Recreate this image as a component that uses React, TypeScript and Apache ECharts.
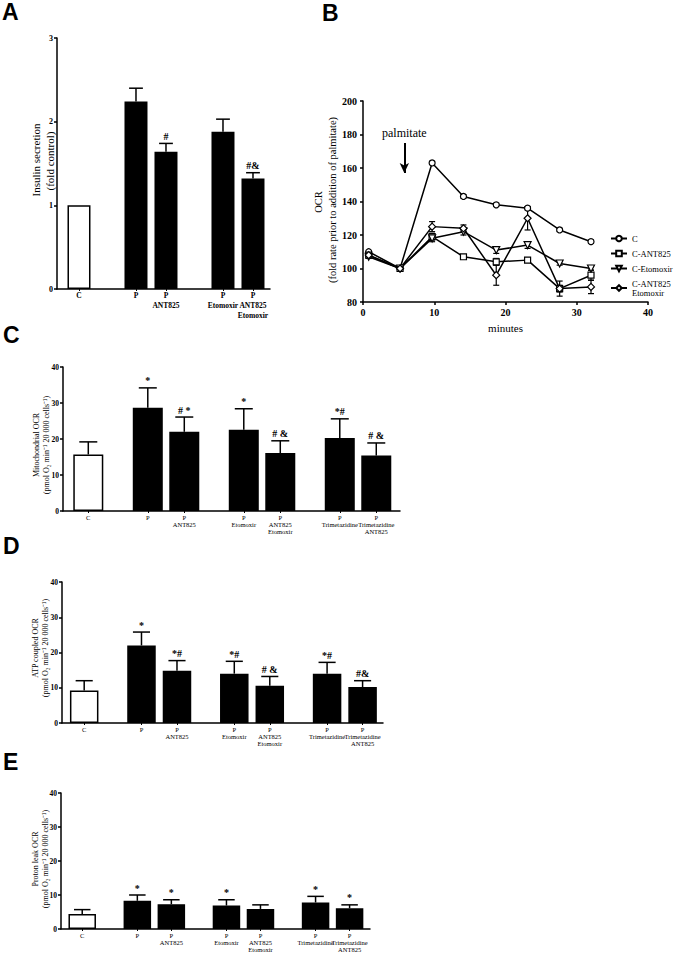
import React, { useEffect, useRef } from 'react';
import * as echarts from 'echarts';

const SERIF = '"Liberation Serif", "Times New Roman", serif';
const SANS = '"Liberation Sans", Arial, sans-serif';

// ---------- Panel A: insulin secretion ----------
const catsA = ['C', 'P', 'P\nANT825', 'P\nEtomoxir', 'P\nANT825\nEtomoxir'];
const groupsA = [1, 2, 2];
const insulin = [1.0, 2.24, 1.64, 1.88, 1.32];
const insulinErr = [0, 0.16, 0.1, 0.15, 0.07];
const sigA = ['', '', '#', '', '#&'];

// ---------- Panel B: OCR time course ----------
const minutes = [0.8, 5.2, 9.7, 14.1, 18.7, 23.1, 27.6, 32.0];
const seriesNamesB = ['C', 'C-ANT825', 'C-Etomoxir', 'C-ANT825\nEtomoxir'];
const ocrC = [110, 100, 163, 143, 138, 136, 123, 116];
const ocrAnt = [108, 100, 119, 107, 104, 105, 88, 96];
const ocrEto = [107, 100, 118, 122, 111, 114, 103, 100];
const ocrAntEto = [108, 100, 125, 124, 96, 130, 88, 89];
const errC = [0, 0, 1, 1, 1, 1, 1, 1];
const errAnt = [1, 0, 2, 1, 2, 1, 4.5, 3];
const errEto = [1, 0, 2, 2, 2, 2, 1, 1];
const errAntEto = [1, 0, 3, 2, 6, 7, 2, 4];
const palmitateArrow = { minute: 5.8, from: 175, to: 157 };

// ---------- Panels C, D, E ----------
const catsOCR = [
  'C',
  'P',
  'P\nANT825',
  'P\nEtomoxir',
  'P\nANT825\nEtomoxir',
  'P\nTrimetazidine',
  'P\nTrimetazidine\nANT825',
];
const groupsOCR = [1, 2, 2, 2];
const mitoOCR = [15.7, 28.7, 22.0, 22.6, 16.1, 20.3, 15.4];
const mitoErr = [3.5, 5.5, 4.1, 5.8, 3.4, 5.3, 3.5];
const sigC = ['', '*', '# *', '*', '# &', '*#', '# &'];

const atpOCR = [9.2, 22.0, 14.8, 14.0, 10.6, 14.0, 10.2];
const atpErr = [2.8, 3.8, 2.9, 3.5, 2.6, 3.2, 1.8];
const sigD = ['', '*', '*#', '*#', '# &', '*#', '#&'];

const leakOCR = [4.4, 8.3, 7.3, 6.9, 5.9, 7.8, 6.1];
const leakErr = [1.3, 1.7, 1.3, 1.7, 1.2, 1.8, 1.0];
const sigE = ['', '*', '*', '*', '', '*', '*'];

function positions(groups: number[], gap: number) {
  const out: number[] = [];
  let i = 0;
  groups.forEach((n, g) => {
    for (let k = 0; k < n; k++) {
      out.push(i + g * gap);
      i++;
    }
  });
  return out;
}

type BarCfg = {
  grid: { left: number; top: number; width: number; height: number };
  cats: string[];
  groups: number[];
  vals: number[];
  errs: number[];
  sig: string[];
  gap: number;
  min: number;
  max: number;
  barWidth: number;
  yMax: number;
  yInterval: number;
  tickFont: number;
  catFont: number;
  catWeight: string;
  catLineHeight: number;
  catMargin: number;
  sigSize: number;
};

function addBarPanel(opt: any, idx: number, cfg: BarCfg) {
  const pos = positions(cfg.groups, cfg.gap);
  opt.grid.push({ ...cfg.grid, containLabel: false });
  opt.xAxis.push({
    gridIndex: idx,
    type: 'value',
    min: cfg.min,
    max: cfg.max,
    axisLine: { show: true, onZero: false, lineStyle: { color: '#000', width: 1.5 } },
    axisTick: { show: true, customValues: pos, length: 2, lineStyle: { color: '#000', width: 1 } },
    axisLabel: { show: false },
    splitLine: { show: false },
  });
  opt.yAxis.push({
    gridIndex: idx,
    type: 'value',
    min: 0,
    max: cfg.yMax,
    interval: cfg.yInterval,
    axisLine: { show: true, onZero: false, lineStyle: { color: '#000', width: 1.5 } },
    axisTick: { show: true, length: 3, lineStyle: { color: '#000', width: 1.5 } },
    axisLabel: { margin: 4, fontSize: cfg.tickFont, fontWeight: 'bold', fontFamily: SERIF, color: '#000' },
    splitLine: { show: false },
  });
  opt.series.push({
    type: 'bar',
    xAxisIndex: idx,
    yAxisIndex: idx,
    barWidth: cfg.barWidth,
    itemStyle: { borderColor: '#000', borderWidth: 1.5 },
    data: pos.map((p, i) => ({ value: [p, cfg.vals[i]], itemStyle: { color: i === 0 ? '#fff' : '#000' } })),
    z: 2,
  });
  opt.series.push({
    type: 'custom',
    xAxisIndex: idx,
    yAxisIndex: idx,
    z: 3,
    data: pos.map((p, i) => [p, cfg.vals[i], cfg.vals[i] + cfg.errs[i]]),
    renderItem: (params: any, api: any) => {
      const i = params.dataIndex;
      const base = api.coord([api.value(0), api.value(1)]);
      const top = api.coord([api.value(0), api.value(2)]);
      const zero = api.coord([api.value(0), 0]);
      const h = cfg.barWidth * 0.3;
      const children: any[] = [];
      if (api.value(2) > api.value(1)) {
        children.push({
          type: 'line',
          shape: { x1: base[0], y1: base[1], x2: base[0], y2: top[1] },
          style: { stroke: '#000', lineWidth: 1.5 },
        });
        children.push({
          type: 'line',
          shape: { x1: base[0] - h, y1: top[1], x2: base[0] + h, y2: top[1] },
          style: { stroke: '#000', lineWidth: 1.5 },
        });
      }
      if (cfg.sig[i]) {
        children.push({
          type: 'text',
          x: base[0],
          y: top[1] - 2,
          style: {
            text: cfg.sig[i],
            font: `bold ${cfg.sigSize}px ${SERIF}`,
            fill: '#000',
            align: 'center',
            verticalAlign: 'bottom',
          },
        });
      }
      children.push({
        type: 'text',
        x: zero[0],
        y: zero[1] + cfg.catMargin,
        style: {
          text: cfg.cats[i],
          font: `${cfg.catWeight} ${cfg.catFont}px ${SERIF}`,
          lineHeight: cfg.catLineHeight,
          fill: '#000',
          align: 'center',
          verticalAlign: 'top',
        },
      });
      return { type: 'group', children };
    },
  });
}

function buildOption() {
  const opt: any = {
    animation: false,
    backgroundColor: '#fff',
    textStyle: { fontFamily: SERIF },
    grid: [],
    xAxis: [],
    yAxis: [],
    series: [],
  };

  // Panel A (index 0)
  addBarPanel(opt, 0, {
    grid: { left: 57, top: 38, width: 213, height: 251 },
    cats: catsA,
    groups: groupsA,
    vals: insulin,
    errs: insulinErr,
    sig: sigA,
    gap: 0.9,
    min: -0.733,
    max: 6.367,
    barWidth: 23,
    yMax: 3,
    yInterval: 1,
    tickFont: 8,
    catFont: 7.5,
    catWeight: 'bold',
    catLineHeight: 9.7,
    catMargin: 2,
    sigSize: 10,
  });

  // Panel B (index 1)
  opt.grid.push({ left: 363, top: 101, width: 285, height: 201 });
  opt.xAxis.push({
    gridIndex: 1,
    type: 'value',
    min: 0,
    max: 40,
    interval: 10,
    name: 'minutes',
    nameLocation: 'middle',
    nameGap: 20,
    nameTextStyle: { fontFamily: SERIF, fontSize: 11, color: '#000' },
    axisLine: { show: true, onZero: false, lineStyle: { color: '#000', width: 1.5 } },
    axisTick: { show: true, length: 3, lineStyle: { color: '#000', width: 1.5 } },
    axisLabel: { margin: 5, fontSize: 10, fontWeight: 'bold', fontFamily: SERIF, color: '#000' },
    splitLine: { show: false },
  });
  opt.yAxis.push({
    gridIndex: 1,
    type: 'value',
    min: 80,
    max: 200,
    interval: 20,
    axisLine: { show: true, onZero: false, lineStyle: { color: '#000', width: 1.5 } },
    axisTick: { show: true, length: 3, lineStyle: { color: '#000', width: 1.5 } },
    axisLabel: { margin: 6, fontSize: 10, fontWeight: 'bold', fontFamily: SERIF, color: '#000' },
    splitLine: { show: false },
  });
  const bVals = [ocrC, ocrAnt, ocrEto, ocrAntEto];
  const bErrs = [errC, errAnt, errEto, errAntEto];
  const symbols = ['circle', 'rect', 'triangle', 'diamond'];
  const symSizes = [6, 6, 7, 7];
  const symRot = [0, 0, 180, 0];
  bVals.forEach((vals, s) => {
    const ser: any = {
      type: 'line',
      name: seriesNamesB[s],
      xAxisIndex: 1,
      yAxisIndex: 1,
      data: minutes.map((t, i) => [t, vals[i]]),
      symbol: symbols[s],
      symbolSize: symSizes[s],
      symbolRotate: symRot[s],
      showAllSymbol: true,
      lineStyle: { color: '#000', width: 1.5 },
      itemStyle: { color: '#fff', borderColor: '#000', borderWidth: 1.2 },
      z: 4,
    };
    if (s === 0) {
      ser.markLine = {
        silent: true,
        symbol: ['none', 'arrow'],
        symbolSize: [7, 10],
        lineStyle: { color: '#000', width: 2, type: 'solid' },
        label: {
          show: true,
          position: 'start',
          formatter: 'palmitate',
          fontFamily: SERIF,
          fontSize: 12,
          color: '#000',
          distance: 4,
        },
        data: [
          [
            { coord: [palmitateArrow.minute, palmitateArrow.from] },
            { coord: [palmitateArrow.minute, palmitateArrow.to] },
          ],
        ],
      };
    }
    opt.series.push(ser);
  });
  const errData: number[][] = [];
  bVals.forEach((vals, s) => {
    minutes.forEach((t, i) => {
      const e = bErrs[s][i];
      if (e > 0) errData.push([t, vals[i] - e, vals[i] + e]);
    });
  });
  opt.series.push({
    type: 'custom',
    xAxisIndex: 1,
    yAxisIndex: 1,
    z: 3,
    data: errData,
    renderItem: (_p: any, api: any) => {
      const lo = api.coord([api.value(0), api.value(1)]);
      const hi = api.coord([api.value(0), api.value(2)]);
      const h = 3;
      const st = { stroke: '#000', lineWidth: 1.2 };
      return {
        type: 'group',
        children: [
          { type: 'line', shape: { x1: lo[0], y1: lo[1], x2: hi[0], y2: hi[1] }, style: st },
          { type: 'line', shape: { x1: lo[0] - h, y1: lo[1], x2: lo[0] + h, y2: lo[1] }, style: st },
          { type: 'line', shape: { x1: hi[0] - h, y1: hi[1], x2: hi[0] + h, y2: hi[1] }, style: st },
        ],
      };
    },
  });
  opt.legend = {
    data: seriesNamesB,
    orient: 'vertical',
    left: 610,
    top: 234,
    itemWidth: 16,
    itemHeight: 7,
    itemGap: 6,
    padding: 0,
    selectedMode: false,
    textStyle: { fontFamily: SERIF, fontSize: 8.5, color: '#000' },
  };

  const ocrCommon = {
    cats: catsOCR,
    groups: groupsOCR,
    yMax: 40,
    yInterval: 10,
    tickFont: 7.5,
    catFont: 6.5,
    catWeight: 'normal',
    catLineHeight: 7.3,
    catMargin: 2.4,
    sigSize: 10,
  };
  // Panel C (index 2)
  addBarPanel(opt, 2, {
    ...ocrCommon,
    grid: { left: 63, top: 367, width: 337, height: 144 },
    vals: mitoOCR,
    errs: mitoErr,
    sig: sigC,
    gap: 0.63,
    min: -0.693,
    max: 8.54,
    barWidth: 30,
  });
  // Panel D (index 3)
  addBarPanel(opt, 3, {
    ...ocrCommon,
    grid: { left: 62, top: 582, width: 321, height: 141 },
    vals: atpOCR,
    errs: atpErr,
    sig: sigD,
    gap: 0.614,
    min: -0.625,
    max: 8.417,
    barWidth: 28.5,
  });
  // Panel E (index 4)
  addBarPanel(opt, 4, {
    ...ocrCommon,
    grid: { left: 61, top: 793, width: 309, height: 136 },
    vals: leakOCR,
    errs: leakErr,
    sig: sigE,
    gap: 0.62,
    min: -0.624,
    max: 8.46,
    barWidth: 27.5,
  });

  const letter = (t: string, x: number, y: number) => ({
    type: 'text',
    x,
    y,
    style: { text: t, font: `bold 23px ${SANS}`, fill: '#000', textVerticalAlign: 'middle', verticalAlign: 'middle' },
  });
  const vtitle = (t: string, x: number, y: number, size: number) => ({
    type: 'text',
    x,
    y,
    rotation: Math.PI / 2,
    style: {
      text: t,
      font: `${size}px ${SERIF}`,
      fill: '#000',
      textAlign: 'center',
      align: 'center',
      textVerticalAlign: 'middle',
      verticalAlign: 'middle',
    },
  });
  const unitLine = '(pmol O\u2082 min\u207B\u00B9 20 000 cells\u207B\u00B9)';
  opt.graphic = [
    letter('A', 2, 11.5),
    letter('B', 322, 12.5),
    letter('C', 3, 335),
    letter('D', 3, 546),
    letter('E', 3, 762),
    vtitle('Insulin secretion', 36, 160, 11),
    vtitle('(fold control)', 50, 161, 11),
    vtitle('OCR', 318, 202, 10.5),
    vtitle('(fold rate prior to addition of palmitate)', 332, 200, 10.5),
    vtitle('Mitochondrial OCR', 36, 445, 8),
    vtitle(unitLine, 46, 445, 8),
    vtitle('ATP coupled OCR', 35, 648, 8),
    vtitle(unitLine, 45, 648, 8),
    vtitle('Proton leak OCR', 35, 859, 8),
    vtitle(unitLine, 45, 859, 8),
  ];
  return opt;
}

export default function App() {
  const ref = useRef<HTMLDivElement>(null);
  useEffect(() => {
    const chart = echarts.init(ref.current!, null, { renderer: 'svg' });
    chart.setOption(buildOption());
    return () => chart.dispose();
  }, []);
  return (
    <div
      ref={ref}
      style={{ position: 'fixed', left: 0, top: 0, width: 675, height: 953, background: '#fff' }}
    />
  );
}
